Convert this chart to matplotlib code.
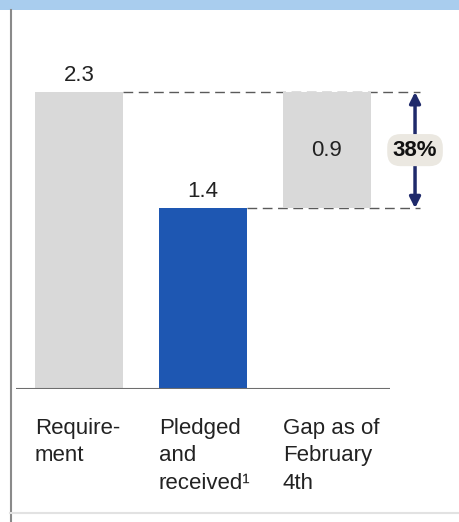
import matplotlib
matplotlib.use("Agg")
import matplotlib.pyplot as plt
from matplotlib.patches import Rectangle
from matplotlib.lines import Line2D
import matplotlib.transforms as mtransforms

plt.rcParams['font.family'] = ['Liberation Sans', 'DejaVu Sans']

categories = ["Require-\nment", "Pledged\nand\nreceived¹", "Gap as of\nFebruary\n4th"]
requirement = 2.3
pledged = 1.4
gap = 0.9
gap_pct_label = "38%"
value_labels = ["2.3", "1.4", "0.9"]

W, H = 459, 522
fig = plt.figure(figsize=(W / 100, H / 100), dpi=100)

# decorations: top blue strip, left border, bottom line
fig.patches.append(Rectangle((0, (H - 10) / H), 1, 10 / H, transform=fig.transFigure,
                             facecolor="#a9cdee", edgecolor="none", zorder=0))
fig.lines.append(Line2D([10.5 / W, 10.5 / W], [0, (H - 10) / H], transform=fig.transFigure,
                        color="#8a8a8a", lw=1.5))
fig.lines.append(Line2D([10 / W, 1], [9 / H, 9 / H], transform=fig.transFigure,
                        color="#e2e2e2", lw=1.5))

ax_left, ax_right = 16, 450
ax_bottom, ax_top = H - 389, H - 60
ax = fig.add_axes([ax_left / W, ax_bottom / H, (ax_right - ax_left) / W, (ax_top - ax_bottom) / H])
ax.set_xlim(-0.508, -0.508 + (ax_right - ax_left) / 124)
ax.set_ylim(0, (ax_top - ax_bottom) / (297 / 2.3))
ax.axis("off")

grey = "#d9d9d9"
blue = "#1e57b2"
bw = 0.71
x = [0, 1, 2]

ax.bar(x[0], requirement, width=bw, color=grey, zorder=2)
ax.bar(x[1], pledged, width=bw, color=blue, zorder=2)
ax.bar(x[2], gap, bottom=pledged, width=bw, color=grey, zorder=2)

# baseline
ax.plot([-0.508, 2.51], [0, 0], color="#6e6e6e", lw=1.5, zorder=3, solid_capstyle="butt")

# dashed connectors
xend = 2.75
ax.plot([x[0] + bw / 2, xend], [requirement, requirement], color="#5a5a5a", lw=1,
        ls=(0, (7, 4)), zorder=1)
ax.plot([x[1] + bw / 2, xend], [pledged, pledged], color="#5a5a5a", lw=1,
        ls=(0, (7, 4)), zorder=1)

fs = 16
ax.text(x[0], requirement + 0.05, value_labels[0], ha="center", va="bottom", fontsize=fs, color="#222222")
ax.text(x[1], pledged + 0.05, value_labels[1], ha="center", va="bottom", fontsize=fs, color="#222222")
ax.text(x[2], pledged + gap / 2, value_labels[2], ha="center", va="center", fontsize=fs, color="#222222", zorder=4)

# double arrow
xa = 2.71
ax.annotate("", xy=(xa, requirement), xytext=(xa, pledged),
            arrowprops=dict(arrowstyle="<|-|>", color="#1f2a6b", lw=2.5,
                            mutation_scale=16, shrinkA=0, shrinkB=0), zorder=4)
ax.text(xa, pledged + gap / 2, gap_pct_label, ha="center", va="center", fontsize=fs,
        fontweight="bold", color="#111111", zorder=5,
        bbox=dict(boxstyle="round,pad=0.25,rounding_size=0.6", facecolor="#ebe8e1", edgecolor="none"))

# category labels
trans = mtransforms.blended_transform_factory(ax.transData, fig.transFigure)
for xi, lab in zip(x, categories):
    ax.text(xi - bw / 2, (H - 418) / H, lab, transform=trans, ha="left", va="top",
            fontsize=fs, color="#222222", linespacing=1.4)

fig.savefig("out.png", dpi=100)
